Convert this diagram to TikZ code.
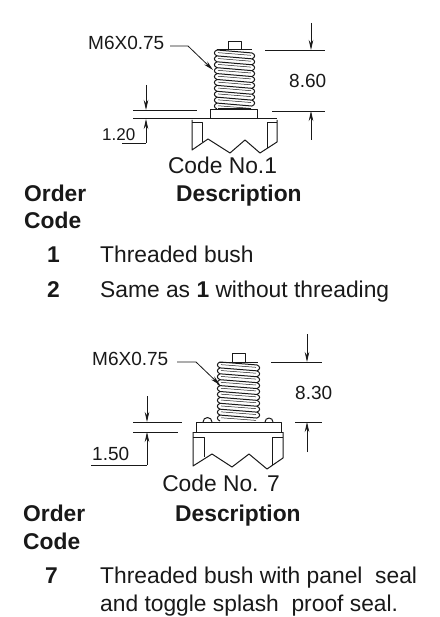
\documentclass[tikz,border=0pt]{standalone}
\usepackage{fontspec}
\setmainfont{Liberation Sans}
\usetikzlibrary{arrows.meta}
\definecolor{ink}{gray}{0.1}
\tikzset{
 thinline/.style={line width=0.8pt,ink},
 part/.style={line width=1pt,ink,line join=round},
 dimarrow/.style={thinline,-{Stealth[length=10pt,width=4.5pt]}},
 body/.style={anchor=west,inner sep=0pt,text=ink,text height=16.3pt,text depth=0pt,font=\fontsize{22.8}{26}\selectfont},
 head/.style={body,font=\fontsize{22.8}{26}\selectfont\bfseries},
 dimtxt/.style={anchor=west,inner sep=0pt,text=ink,text height=13.6pt,text depth=0pt,font=\fontsize{19}{22}\selectfont},
 dimsmall/.style={dimtxt,text height=12.2pt,font=\fontsize{17}{20}\selectfont},
 codetxt/.style={anchor=center,inner sep=0pt,text=ink,text height=16.3pt,text depth=0pt,font=\fontsize{22.8}{26}\selectfont}
}
\newcommand{\threads}[5]{% cx, top y, bottom y, half width, n
 \pgfmathsetmacro{\st}{(#3-#2)/#5}
 \foreach \i in {1,...,#5}{
  \pgfmathsetmacro{\ya}{#2+(\i-1)*\st}
  \pgfmathsetmacro{\yb}{\ya+\st}
  \draw[part] ({#1-#4+2},{-\ya}) .. controls ({#1-#4-1.5},{-\ya-\st/4}) and ({#1-#4-1.5},{-\yb+\st/4}) .. ({#1-#4+2},{-\yb});
  \ifnum\i<#5\relax
   \draw[part] ({#1+#4-2},{-\ya-\st/2}) .. controls ({#1+#4+1.5},{-\ya-\st*3/4}) and ({#1+#4+1.5},{-\ya-\st*5/4}) .. ({#1+#4-2},{-\ya-\st*3/2});
  \fi
  \draw[part] ({#1-#4+2},{-\ya}) -- ({#1+#4-2},{-\ya-\st*0.5});
  \draw[line width=0.5pt,ink] ({#1-#4+3},{-\ya-\st*0.45}) -- ({#1+#4-3},{-\ya-\st*0.9});
 }
}
\begin{document}
\begin{tikzpicture}[x=1pt,y=1pt]
\useasboundingbox (0,0) rectangle (439,-617);
\fill[white] (0,0) rectangle (439,-617);
% top drawing
\node[dimtxt] (m1) at (88,-43) {M6X0.75};
\coordinate (m1a) at (170,-46);
\coordinate (m1b) at (188,-46);
\coordinate (m1c) at (213,-70);
\draw[dimarrow] (m1a) -- (m1b) -- (m1c);
\draw[part] (228,-50) -- (228,-42) -- (241,-42) -- (241,-50);
\threads{234.5}{50}{109}{19.5}{10}
\draw[part] (217,-50) -- (252,-50);
\draw[part] (218,-109) -- (251,-109);
\draw[part] (210,-118.5) -- (210,-110) -- (257,-110) -- (257,-118.5);
\draw[part] (133,-118.5) -- (277,-118.5);
\draw[part] (192,-120) -- (192,-150) -- (208,-139) -- (230,-153) -- (245,-140) -- (260,-153) -- (277,-142) -- (277,-120);
\draw[part] (192,-123) -- (202,-123) -- (202,-142);
\draw[part] (267,-123) -- (277,-123);
\draw[part] (267,-123) -- (267,-148);
\draw[thinline] (133,-110) -- (197,-110);
% dims left top
\coordinate (a1) at (146,-85);
\coordinate (a2) at (146,-110);
\coordinate (a3) at (146,-143);
\coordinate (a4) at (146,-119);
\draw[dimarrow] (a1) -- (a2);
\draw[dimarrow] (a3) -- (a4);
\draw[thinline] (122,-143) -- (a3);
\node[dimsmall] (d120) at (102,-134) {1.20};
% dims right top
\coordinate (r1) at (311,-23);
\coordinate (r2) at (311,-50);
\coordinate (r3) at (311,-140);
\coordinate (r4) at (311,-111);
\draw[thinline] (265,-50) -- (325,-50);
\draw[thinline] (272,-111) -- (325,-111);
\draw[dimarrow] (r1) -- (r2);
\draw[dimarrow] (r3) -- (r4);
\node[dimtxt] (d860) at (289,-81) {8.60};
\node[codetxt] (c1) at (222.5,-165) {Code No.1};
% top text
\node[head] (o1) at (24,-193) {Order};
\node[head] (cd1) at (24,-220) {Code};
\node[head] (ds1) at (176,-193) {Description};
\node[head] (n1) at (47,-254) {1};
\node[body] (t1) at (100,-254) {Threaded bush};
\node[head] (n2) at (47,-289) {2};
\node[body] (t2) at (100,-289) {Same as \textbf{1} without threading};
% lower drawing
\node[dimtxt] (m7) at (92,-359) {M6X0.75};
\coordinate (m7a) at (177,-362);
\coordinate (m7b) at (196,-362);
\coordinate (m7c) at (220,-385);
\draw[dimarrow] (m7a) -- (m7b) -- (m7c);
\draw[part] (232,-362) -- (232,-353) -- (245,-353) -- (245,-362);
\threads{238.5}{362}{421}{20.5}{10}
\draw[part] (219,-362) -- (258,-362);
\draw[part] (196,-432) -- (196,-422) -- (281,-422) -- (281,-432);
\draw[part] (203,-422) arc (180:0:4.5);
\draw[part] (265,-422) arc (180:0:4);
\draw[part] (193,-432) -- (283,-432);
\draw[part] (193,-432) -- (193,-466) -- (212,-454) -- (232,-467) -- (249,-454) -- (267,-469) -- (283,-458) -- (283,-432);
\draw[part] (193,-437) -- (204,-437) -- (204,-457);
\draw[part] (272,-437) -- (283,-437);
\draw[part] (272,-437) -- (272,-465);
\draw[part] (133,-422) -- (182,-422);
\draw[thinline] (133,-432) -- (178,-432);
\coordinate (b1) at (147,-396);
\coordinate (b2) at (147,-422);
\coordinate (b3) at (147,-465);
\coordinate (b4) at (147,-432);
\draw[dimarrow] (b1) -- (b2);
\draw[dimarrow] (b3) -- (b4);
\draw[thinline] (91,-465) -- (b3);
\node[dimtxt] (d150) at (92,-454) {1.50};
\coordinate (s1) at (307,-334);
\coordinate (s2) at (307,-362);
\coordinate (s3) at (307,-452);
\coordinate (s4) at (307,-422);
\draw[thinline] (271,-362) -- (322,-362);
\draw[thinline] (295,-422) -- (322,-422);
\draw[dimarrow] (s1) -- (s2);
\draw[dimarrow] (s3) -- (s4);
\node[dimtxt] (d830) at (295,-393) {8.30};
\node[codetxt] (c7) at (221,-483) {Code No. 7};
\node[head] (o7) at (23,-513) {Order};
\node[head] (cd7) at (23,-541) {Code};
\node[head] (ds7) at (175,-513) {Description};
\node[head] (n7) at (45,-575) {7};
\node[body] (t7) at (100,-575) {Threaded bush with panel\ \ seal};
\node[body] (t7b) at (100,-603) {and toggle splash\ \ proof seal.};
\end{tikzpicture}
\end{document}
